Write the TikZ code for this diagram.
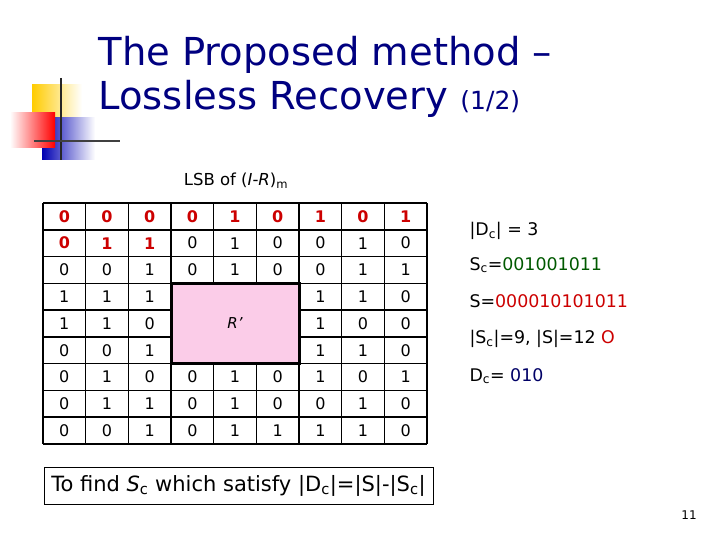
\documentclass[tikz,border=0pt]{standalone}
\usepackage{fontspec}
\setmainfont{DejaVu Sans}
\begin{document}
\begin{tikzpicture}[x=1pt,y=-1pt,
  cell/.style={font=\fontsize{16}{16}\selectfont},
  red cell/.style={font=\bfseries\fontsize{16}{16}\selectfont, text=red!80!black},
  info/.style={anchor=west,font=\fontsize{17.4}{17.4}\selectfont}]
\useasboundingbox (0,0) rectangle (720,540);
% logo
\shade[left color=yellow!60!orange, right color=white] (32,85) rectangle (82,130);
\shade[left color=blue!70!black, right color=white] (42,118) rectangle (95,160);
\shade[left color=white, right color=red] (10,113) rectangle (55,148);
\draw[line width=2pt,black!85] (61,78) -- (61,160);
\draw[line width=2pt,black!75] (34,141) -- (120,141);
% title
\node[anchor=west,text=blue!50!black,font=\fontsize{38.5}{44}\selectfont,align=left] (title) at (95,77)
 {The Proposed method --\\Lossless Recovery {\fontsize{25}{25}\selectfont(1/2)}};
\node[font=\fontsize{16.5}{16.5}\selectfont] (lsb) at (236,181) {LSB of (\textit{I}-\textit{R})\textsubscript{m}};
% table
\def\cw{42.67}\def\rh{26.78}
\fill[magenta!20] (43+3*\cw,203+3*\rh) rectangle (43+6*\cw,203+6*\rh);
\foreach \i in {0,...,9} {
  \draw[line width=1.5pt] (43+\i*\cw,203) -- (43+\i*\cw,444);
  \draw[line width=1.5pt] (43,203+\i*\rh) -- (427,203+\i*\rh);
}
\fill[magenta!20] (43+3*\cw,203+3*\rh) rectangle (43+6*\cw,203+6*\rh);
\draw[line width=3pt] (43+3*\cw,203+3*\rh) rectangle (43+6*\cw,203+6*\rh);
\node[font=\itshape\fontsize{15}{15}\selectfont] (rp) at (43+4.5*\cw,203+4.5*\rh) {R'};
\foreach \row [count=\r] in {{0,0,0,0,1,0,1,0,1},{0,1,1,0,1,0,0,1,0},{0,0,1,0,1,0,0,1,1},{1,1,1,,,,1,1,0},{1,1,0,,,,1,0,0},{0,0,1,,,,1,1,0},{0,1,0,0,1,0,1,0,1},{0,1,1,0,1,0,0,1,0},{0,0,1,0,1,1,1,1,0}}{
  \foreach \v [count=\c] in \row {
    \pgfmathsetmacro{\red}{(\r==1 || (\r==2 && \c<4)) ? 1 : 0}
    \ifdim\red pt>0.5pt
      \node[red cell] (c\r-\c) at (43+\c*\cw-0.5*\cw,203+\r*\rh-0.5*\rh) {\v};
    \else
      \node[cell] (c\r-\c) at (43+\c*\cw-0.5*\cw,203+\r*\rh-0.5*\rh) {\v};
    \fi
  }
}
% info
\node[info] (i1) at (466,231) {|D\textsubscript{c}| = 3};
\node[info] (i2) at (466,265) {S\textsubscript{c}=\textcolor{green!35!black}{001001011}};
\node[info] (i3) at (466,301) {S=\textcolor{red!80!black}{000010101011}};
\node[info] (i4) at (466,339) {|S\textsubscript{c}|=9, |S|=12 \textcolor{red!80!black}{O}};
\node[info] (i5) at (466,376) {D\textsubscript{c}= \textcolor{blue!40!black}{010}};
% bottom box
\node[draw,line width=1pt,minimum width=389pt,minimum height=37pt,font=\fontsize{21}{21}\selectfont] (box) at (238.5,485.5)
 {To find \textit{S}\textsubscript{c} which satisfy |D\textsubscript{c}|=|S|-|S\textsubscript{c}|};
\node[font=\fontsize{12}{12}\selectfont] (pg) at (689,515) {11};
\end{tikzpicture}
\end{document}
